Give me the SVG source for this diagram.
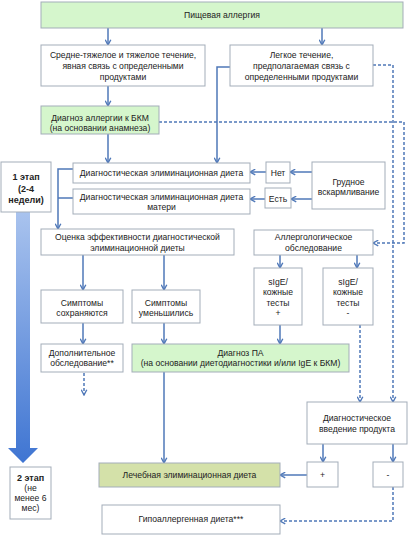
<svg xmlns="http://www.w3.org/2000/svg" width="410" height="535" viewBox="0 0 410 535">
<defs>
<style>
.b{fill:#ffffff;stroke:#a3adb9;stroke-width:1}
.g{fill:#d5f6cc;stroke:#a3adb9;stroke-width:1}
.o{fill:#d4e1a9;stroke:#a3adb9;stroke-width:1}
text{font-family:"Liberation Sans",Arial,sans-serif;font-size:8.6px;fill:#222;text-anchor:middle}
.bold{font-weight:bold;font-size:9px}
.c{fill:none;stroke:#4f78b8;stroke-width:1.5}
.d{fill:none;stroke:#4f78b8;stroke-width:1.5;stroke-dasharray:3,2}
</style>
<marker id="ah" viewBox="0 0 10 10" refX="8.5" refY="5" markerWidth="7" markerHeight="7" markerUnits="userSpaceOnUse" orient="auto">
<path d="M1,1 L8.5,5 L1,9" fill="none" stroke="#4f78b8" stroke-width="2"/>
</marker>
<linearGradient id="bar" x1="0" y1="0" x2="0" y2="1">
<stop offset="0" stop-color="#a9c3ee"/>
<stop offset="1" stop-color="#3f75d2"/>
</linearGradient>
</defs>

<g id="connectors">
<path class="c" d="M108,28 V45" marker-end="url(#ah)"/>
<path class="c" d="M322,28 V45" marker-end="url(#ah)"/>
<path class="c" d="M108,86 V106" marker-end="url(#ah)"/>
<path class="c" d="M108,134 V163" marker-end="url(#ah)"/>
<path class="c" d="M230,67 H217 V163" marker-end="url(#ah)"/>
<path class="d" d="M373,65 H393 V402" marker-end="url(#ah)"/>
<path class="d" d="M159,122 H404 V243 H373" marker-end="url(#ah)"/>
<path class="c" d="M312,172 H290" marker-end="url(#ah)"/>
<path class="c" d="M312,199 H291" marker-end="url(#ah)"/>
<path class="c" d="M266,172 H250" marker-end="url(#ah)"/>
<path class="c" d="M265,199 H250" marker-end="url(#ah)"/>
<path class="c" d="M73,169 H58 V229" marker-end="url(#ah)"/>
<path class="c" d="M73,198 H58"/>
<path class="c" d="M83,255 V290" marker-end="url(#ah)"/>
<path class="c" d="M164,255 V290" marker-end="url(#ah)"/>
<path class="c" d="M280,255 V268" marker-end="url(#ah)"/>
<path class="c" d="M357,255 V268" marker-end="url(#ah)"/>
<path class="c" d="M83,323 V344" marker-end="url(#ah)"/>
<path class="c" d="M164,323 V344" marker-end="url(#ah)"/>
<path class="c" d="M280,325 V344" marker-end="url(#ah)"/>
<path class="d" d="M84,373 V395" marker-end="url(#ah)"/>
<path class="c" d="M164,372 V463" marker-end="url(#ah)"/>
<path class="d" d="M360,325 V402" marker-end="url(#ah)"/>
<path class="c" d="M323,444 V462" marker-end="url(#ah)"/>
<path class="c" d="M393,444 V462" marker-end="url(#ah)"/>
<path class="c" d="M307,475 H280" marker-end="url(#ah)"/>
<path class="d" d="M393,487 V521 H280" marker-end="url(#ah)"/>
</g>

<g id="stage-arrow">
<path d="M16,212 H30 V448 H38 L23,463 L8,448 H16 Z" fill="url(#bar)"/>
</g>

<g id="n-top"><rect class="g" x="41" y="2" width="362" height="26"/><text x="222" y="18">Пищевая аллергия</text></g>
<g id="n-severe"><rect class="b" x="41" y="45" width="164" height="41"/><text x="123" y="58">Средне-тяжелое и тяжелое течение,</text><text x="123" y="69">явная связь с определенными</text><text x="123" y="80">продуктами</text></g>
<g id="n-mild"><rect class="b" x="230" y="45" width="143" height="41"/><text x="301.5" y="58">Легкое течение,</text><text x="301.5" y="69">предполагаемая связь с</text><text x="301.5" y="80">определенными продуктами</text></g>
<g id="n-dx-bkm"><rect class="g" x="41" y="106" width="118" height="28"/><text x="100" y="121">Диагноз аллергии к БКМ</text><text x="100" y="131">(на основании анамнеза)</text></g>
<g id="n-stage1"><rect class="b" x="1" y="162" width="50" height="50"/><text class="bold" x="26" y="180">1 этап</text><text class="bold" x="26" y="192">(2-4</text><text class="bold" x="26" y="203">недели)</text></g>
<g id="n-diet"><rect class="b" x="73" y="163" width="177" height="20"/><text x="161.5" y="176">Диагностическая элиминационная диета</text></g>
<g id="n-no"><rect class="b" x="266" y="162" width="24" height="21"/><text x="278" y="176">Нет</text></g>
<g id="n-breast"><rect class="b" x="312" y="162" width="73" height="47"/><text x="348.5" y="185">Грудное</text><text x="348.5" y="195">вскармливание</text></g>
<g id="n-diet-mother"><rect class="b" x="73" y="189" width="177" height="25"/><text x="161.5" y="200">Диагностическая элиминационная диета</text><text x="161.5" y="210">матери</text></g>
<g id="n-yes"><rect class="b" x="265" y="188" width="26" height="20"/><text x="278" y="202">Есть</text></g>
<g id="n-eval"><rect class="b" x="41" y="229" width="193" height="26"/><text x="137.5" y="240">Оценка эффективности диагностической</text><text x="137.5" y="251">элиминационной диеты</text></g>
<g id="n-allerg"><rect class="b" x="254" y="230" width="119" height="25"/><text x="313.5" y="240">Аллергологическое</text><text x="313.5" y="251">обследование</text></g>
<g id="n-persist"><rect class="b" x="41" y="290" width="82" height="33"/><text x="82" y="306">Симптомы</text><text x="82" y="316">сохраняются</text></g>
<g id="n-reduce"><rect class="b" x="132" y="290" width="68" height="33"/><text x="166" y="306">Симптомы</text><text x="166" y="316">уменьшились</text></g>
<g id="n-sige-pos"><rect class="b" x="254" y="268" width="48" height="57"/><text x="278" y="285">sIgE/</text><text x="278" y="295">кожные</text><text x="278" y="306">тесты</text><text x="278" y="316">+</text></g>
<g id="n-sige-neg"><rect class="b" x="323" y="268" width="50" height="57"/><text x="348" y="285">sIgE/</text><text x="348" y="295">кожные</text><text x="348" y="306">тесты</text><text x="348" y="316">-</text></g>
<g id="n-extra"><rect class="b" x="41" y="344" width="82" height="28"/><text x="82" y="356">Дополнительное</text><text x="82" y="366">обследование**</text></g>
<g id="n-dx-pa"><rect class="g" x="132" y="344" width="217" height="28"/><text x="240.5" y="356">Диагноз ПА</text><text x="240.5" y="366">(на основании диетодиагностики и/или IgE к БКМ)</text></g>
<g id="n-challenge"><rect class="b" x="307" y="402" width="100" height="42"/><text x="357" y="421">Диагностическое</text><text x="357" y="432">введение продукта</text></g>
<g id="n-stage2"><rect class="b" x="10" y="467" width="41" height="52"/><text class="bold" x="30.5" y="481">2 этап</text><text x="30.5" y="491">(не</text><text x="30.5" y="501">менее 6</text><text x="30.5" y="511">мес)</text></g>
<g id="n-therapy"><rect class="o" x="99" y="463" width="181" height="24"/><text x="189.5" y="478">Лечебная элиминационная диета</text></g>
<g id="n-plus"><rect class="b" x="307" y="462" width="31" height="25"/><text x="322.5" y="478">+</text></g>
<g id="n-minus"><rect class="b" x="373" y="462" width="30" height="25"/><text x="388" y="478">-</text></g>
<g id="n-hypo"><rect class="b" x="102" y="505" width="178" height="29"/><text x="191" y="522">Гипоаллергенная диета***</text></g>
</svg>
